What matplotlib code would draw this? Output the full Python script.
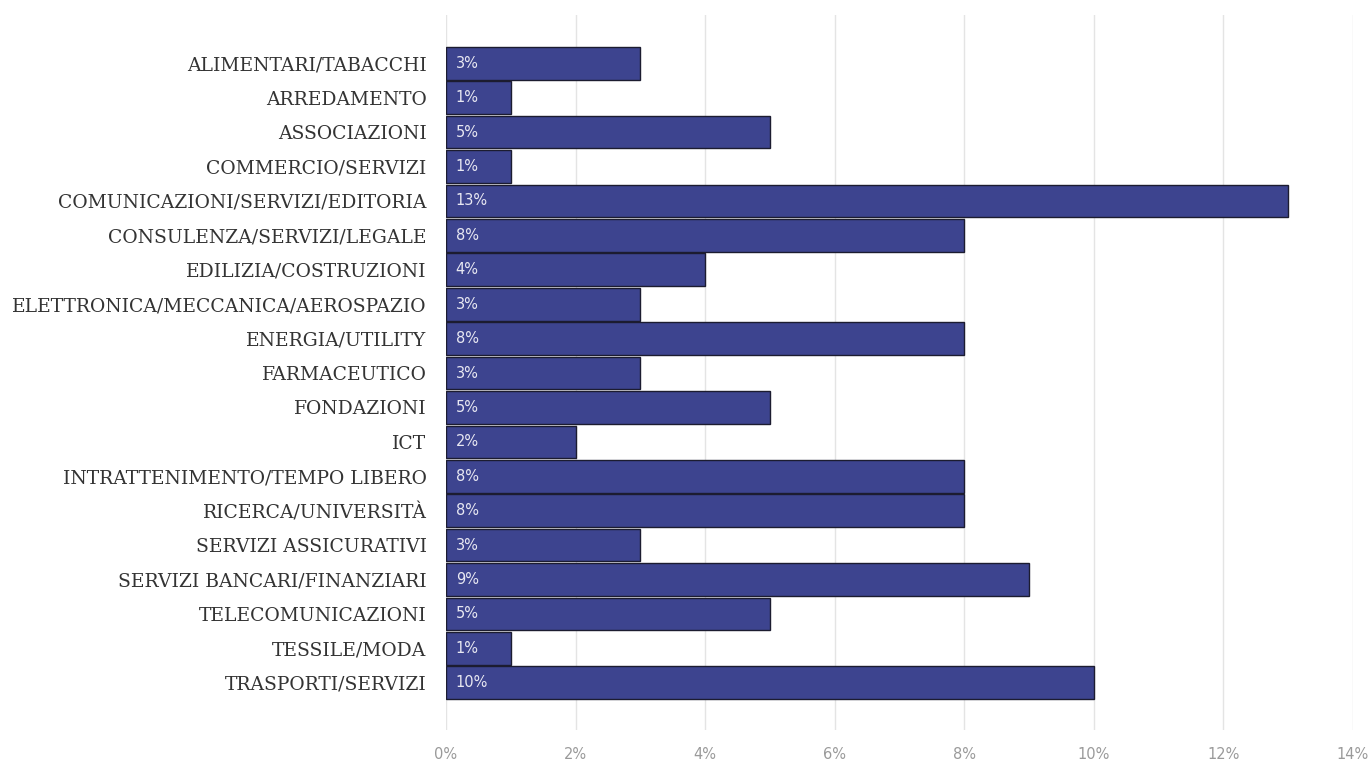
import matplotlib
matplotlib.use("Agg")
import matplotlib.pyplot as plt
from matplotlib.ticker import FuncFormatter

categories = [
    "ALIMENTARI/TABACCHI", "ARREDAMENTO", "ASSOCIAZIONI", "COMMERCIO/SERVIZI",
    "COMUNICAZIONI/SERVIZI/EDITORIA", "CONSULENZA/SERVIZI/LEGALE",
    "EDILIZIA/COSTRUZIONI", "ELETTRONICA/MECCANICA/AEROSPAZIO",
    "ENERGIA/UTILITY", "FARMACEUTICO", "FONDAZIONI", "ICT",
    "INTRATTENIMENTO/TEMPO LIBERO", "RICERCA/UNIVERSITÀ",
    "SERVIZI ASSICURATIVI", "SERVIZI BANCARI/FINANZIARI",
    "TELECOMUNICAZIONI", "TESSILE/MODA", "TRASPORTI/SERVIZI",
]
values = [3, 1, 5, 1, 13, 8, 4, 3, 8, 3, 5, 2, 8, 8, 3, 9, 5, 1, 10]
xticks = [0, 2, 4, 6, 8, 10, 12, 14]

fig = plt.figure(figsize=(13.71, 7.65), dpi=100)
ax = fig.add_axes([446/1371, 1-730/765, (1353-446)/1371, (730-15)/765])

y = list(range(len(categories)))
ax.barh(y, values, height=0.95, color="#3d448f", edgecolor="#1c1c30", linewidth=1.0, zorder=3)
for yi, v in zip(y, values):
    ax.text(0.15, yi, f"{v}%", ha="left", va="center", color="#e8e8f2",
            fontsize=10.5, family="DejaVu Sans", zorder=4)

ax.set_xlim(0, 14)
ax.set_ylim(len(categories) - 1 + 1.37, -1.4)
ax.set_xticks(xticks)
ax.xaxis.set_major_formatter(FuncFormatter(lambda v, p: f"{v:.0f}%"))
ax.set_yticks(y)
ax.set_yticklabels(categories, family="DejaVu Serif", fontsize=13.5, color="#333333")
for lab in ax.get_xticklabels():
    lab.set_fontsize(10.5)
    lab.set_color("#9a9a9a")
    lab.set_family("DejaVu Sans")
ax.tick_params(axis="y", length=0, pad=14)
ax.tick_params(axis="x", length=0, pad=12)
ax.grid(axis="x", color="#e4e4e4", linewidth=1.0, zorder=0)
for s in ax.spines.values():
    s.set_visible(False)

fig.savefig("out.png", dpi=100)
